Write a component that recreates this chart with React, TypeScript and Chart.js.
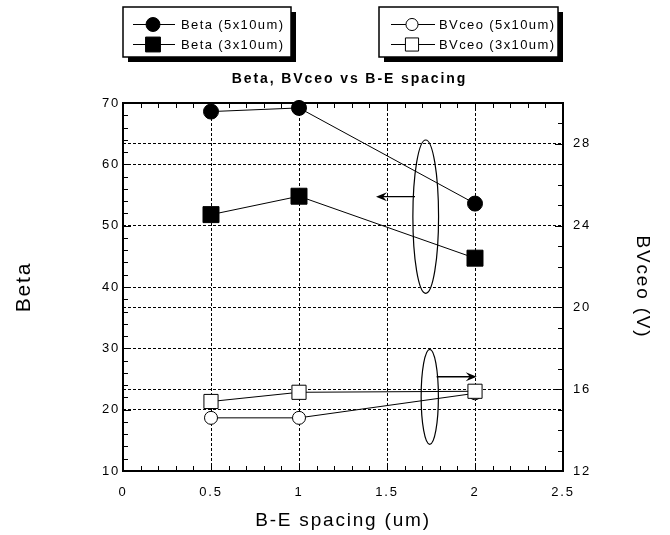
import React, { useEffect, useRef } from 'react';
import { Chart, registerables } from 'chart.js';

Chart.register(...registerables);

// ---- data ----
const spacingUm = [0.5, 1, 2];
const betaSmall = [68.6, 69.2, 53.6]; // Beta (5x10um)
const betaLarge = [51.8, 54.8, 44.7]; // Beta (3x10um)
const bvSmall = [14.6, 14.6, 15.8]; // BVceo (5x10um)
const bvLarge = [15.4, 15.85, 15.9]; // BVceo (3x10um)
const seriesLabels = ['Beta (5x10um)', 'Beta (3x10um)', 'BVceo (5x10um)', 'BVceo (3x10um)'];
const chartTitle = 'Beta, BVceo vs B-E spacing';
const xTitle = 'B-E spacing (um)';
const yTitle = 'Beta';
const y1Title = 'BVceo (V)';

// annotation ellipses: x centre, x half-width, y top, y bottom (left axis units)
const ellipseX = [1.72, 1.743];
const ellipseHalfW = [0.073, 0.049];
const ellipseTop = [63.97, 29.84];
const ellipseBottom = [38.97, 14.35];
// annotation arrows: x start, x end, y (left axis units)
const arrowFrom = [1.659, 1.782];
const arrowTo = [1.4375, 2.01];
const arrowY = [54.72, 25.37];

const FONT = '"Liberation Sans", Arial, Helvetica, sans-serif';

const pts = (ys: number[]) => spacingUm.map((x, i) => ({ x, y: ys[i] }));

function drawMarker(ctx: CanvasRenderingContext2D, style: string, r: number, x: number, y: number, fill: string) {
  ctx.beginPath();
  if (style === 'rect') {
    const s = r * Math.SQRT1_2;
    ctx.rect(x - s, y - s, 2 * s, 2 * s);
  } else {
    ctx.arc(x, y, r, 0, Math.PI * 2);
  }
  ctx.fillStyle = fill;
  ctx.fill();
  ctx.lineWidth = 1;
  ctx.strokeStyle = '#000';
  ctx.stroke();
}

const decorPlugin = {
  id: 'decor',
  beforeDraw(chart: any) {
    (chart.ctx as any).letterSpacing = '1.8px';
  },
  beforeDatasetsDraw(chart: any) {
    const { ctx, chartArea: a, scales } = chart;
    const x = scales.x;
    const y = scales.y;
    const y1 = scales.y1;
    ctx.save();
    ctx.strokeStyle = '#000';
    ctx.lineWidth = 1;
    ctx.setLineDash([]);
    ctx.beginPath();
    // x minor/major ticks (bottom + top), inward
    for (let i = 0; i <= 25; i++) {
      const p = Math.round(x.getPixelForValue(i * 0.1)) + 0.5;
      const len = i % 5 === 0 ? 8 : 5;
      ctx.moveTo(p, a.bottom);
      ctx.lineTo(p, a.bottom - len);
      ctx.moveTo(p, a.top);
      ctx.lineTo(p, a.top + len);
    }
    // left axis ticks
    for (let i = 0; i <= 30; i++) {
      const p = Math.round(y.getPixelForValue(10 + i * 2)) + 0.5;
      const len = i % 5 === 0 ? 8 : 5;
      ctx.moveTo(a.left, p);
      ctx.lineTo(a.left + len, p);
    }
    // right axis ticks
    for (let i = 0; i <= 18; i++) {
      const p = Math.round(y1.getPixelForValue(12 + i)) + 0.5;
      const len = i % 4 === 0 ? 8 : 5;
      ctx.moveTo(a.right, p);
      ctx.lineTo(a.right - len, p);
    }
    ctx.stroke();
    // frame
    ctx.lineWidth = 2;
    ctx.strokeRect(a.left, a.top, a.right - a.left, a.bottom - a.top);

    // ellipses
    ctx.lineWidth = 1.2;
    for (let i = 0; i < ellipseX.length; i++) {
      const cx = x.getPixelForValue(ellipseX[i]);
      const rx = x.getPixelForValue(ellipseX[i] + ellipseHalfW[i]) - cx;
      const t = y.getPixelForValue(ellipseTop[i]);
      const b = y.getPixelForValue(ellipseBottom[i]);
      ctx.beginPath();
      ctx.ellipse(cx, (t + b) / 2, rx, (b - t) / 2, 0, 0, Math.PI * 2);
      ctx.stroke();
    }
    // arrows
    for (let i = 0; i < arrowFrom.length; i++) {
      const x0 = x.getPixelForValue(arrowFrom[i]);
      const x1 = x.getPixelForValue(arrowTo[i]);
      const py = y.getPixelForValue(arrowY[i]);
      const dir = x1 > x0 ? 1 : -1;
      ctx.lineWidth = i === 1 ? 1.6 : 1.2;
      ctx.beginPath();
      ctx.moveTo(x0, py);
      ctx.lineTo(x1 - dir * 6, py);
      ctx.stroke();
      ctx.beginPath();
      ctx.moveTo(x1, py);
      ctx.lineTo(x1 - dir * 11, py - 4.5);
      ctx.lineTo(x1 - dir * 7, py);
      ctx.lineTo(x1 - dir * 11, py + 4.5);
      ctx.closePath();
      ctx.fillStyle = '#000';
      ctx.fill();
    }
    ctx.restore();
  },
  afterDraw(chart: any) {
    const { ctx } = chart;
    const ds = chart.data.datasets;
    const boxes = [
      { l: 123, t: 7, r: 291, b: 57, lf: 133, lt: 175, m: 153, tx: 181, items: [0, 1] },
      { l: 379, t: 7, r: 558, b: 57, lf: 391, lt: 435, m: 412, tx: 439, items: [2, 3] },
    ];
    const rowY = [24.5, 44.5];
    ctx.save();
    (ctx as any).letterSpacing = '1.4px';
    for (const bx of boxes) {
      ctx.fillStyle = '#000';
      ctx.fillRect(bx.l + 5, bx.t + 5, bx.r - bx.l, bx.b - bx.t);
      ctx.fillStyle = '#fff';
      ctx.fillRect(bx.l, bx.t, bx.r - bx.l, bx.b - bx.t);
      ctx.lineWidth = 1.5;
      ctx.strokeStyle = '#000';
      ctx.strokeRect(bx.l, bx.t, bx.r - bx.l, bx.b - bx.t);
      bx.items.forEach((idx, row) => {
        const d = ds[idx];
        const yy = rowY[row];
        ctx.lineWidth = 1;
        ctx.beginPath();
        ctx.moveTo(bx.lf, yy);
        ctx.lineTo(bx.lt, yy);
        ctx.stroke();
        drawMarker(ctx, d.pointStyle, d.pointRadius * 0.93, bx.m, yy, d.pointBackgroundColor);
        ctx.fillStyle = '#000';
        ctx.font = `13px ${FONT}`;
        ctx.textAlign = 'left';
        ctx.textBaseline = 'middle';
        ctx.fillText(d.label, bx.tx, yy + 0.5);
      });
    }
    ctx.font = `bold 14px ${FONT}`;
    (ctx as any).letterSpacing = '1.9px';
    ctx.textAlign = 'center';
    ctx.textBaseline = 'middle';
    ctx.fillStyle = '#000';
    ctx.fillText(chartTitle, 349.5, 79);
    ctx.restore();
  },
};

const gridColor = (edgeA: number, edgeB: number) => (c: any) =>
  c.tick && (Math.abs(c.tick.value - edgeA) < 1e-9 || Math.abs(c.tick.value - edgeB) < 1e-9)
    ? 'rgba(0,0,0,0)'
    : '#000';

export default function App() {
  const ref = useRef<HTMLCanvasElement | null>(null);

  useEffect(() => {
    document.body.style.margin = '0';
    const canvas = ref.current;
    if (!canvas) return;
    const common = {
      borderColor: '#000',
      borderWidth: 1,
      pointBorderColor: '#000',
      pointBorderWidth: 1,
      tension: 0,
      clip: false as any,
    };
    const chart = new Chart(canvas, {
      type: 'line',
      data: {
        datasets: [
          { ...common, label: seriesLabels[0], data: pts(betaSmall), yAxisID: 'y', pointStyle: 'circle', pointRadius: 7.5, pointBackgroundColor: '#000', order: 3 },
          { ...common, label: seriesLabels[1], data: pts(betaLarge), yAxisID: 'y', pointStyle: 'rect', pointRadius: 11.3, pointBackgroundColor: '#000', order: 2 },
          { ...common, label: seriesLabels[2], data: pts(bvSmall), yAxisID: 'y1', pointStyle: 'circle', pointRadius: 6.5, pointBackgroundColor: '#fff', order: 1 },
          { ...common, label: seriesLabels[3], data: pts(bvLarge), yAxisID: 'y1', pointStyle: 'rect', pointRadius: 10, pointBackgroundColor: '#fff', order: 0 },
        ] as any,
      },
      options: {
        responsive: false,
        animation: false,
        events: [],
        layout: { padding: { top: 103, left: 0, right: 0, bottom: 0 } },
        plugins: { legend: { display: false }, title: { display: false }, tooltip: { enabled: false } },
        scales: {
          x: {
            type: 'linear',
            min: 0,
            max: 2.5,
            afterFit: (s: any) => { s.height = 64; },
            ticks: {
              stepSize: 0.5,
              padding: 14,
              color: '#000',
              font: { size: 13, family: FONT },
              maxRotation: 0,
              autoSkip: false,
              callback: (v: any) => String(Math.round(Number(v) * 10) / 10),
            },
            grid: { color: gridColor(0, 2.5), lineWidth: 1, drawTicks: false },
            border: { display: false, dash: [3, 2] },
            title: { display: true, text: xTitle, color: '#000', font: { size: 19, family: FONT }, padding: { top: 0, bottom: 3 } },
          },
          y: {
            type: 'linear',
            position: 'left',
            min: 10,
            max: 70,
            afterFit: (s: any) => { s.width = 123; },
            ticks: { stepSize: 10, padding: 3, color: '#000', font: { size: 13, family: FONT } },
            grid: { color: gridColor(10, 70), lineWidth: 1, drawTicks: false },
            border: { display: false, dash: [3, 2] },
            title: { display: true, text: yTitle, color: '#000', font: { size: 21, family: FONT }, padding: { top: 11.4, bottom: 0 } },
          },
          y1: {
            type: 'linear',
            position: 'right',
            min: 12,
            max: 30,
            afterFit: (s: any) => { s.width = 107; },
            ticks: { stepSize: 4, includeBounds: false, padding: 10, color: '#000', font: { size: 13, family: FONT } } as any,
            grid: { color: gridColor(12, 30), lineWidth: 1, drawTicks: false },
            border: { display: false, dash: [3, 2] },
            title: { display: true, text: y1Title, color: '#000', font: { size: 19, family: FONT }, padding: { top: 16.6, bottom: 0 } },
          },
        },
      } as any,
      plugins: [decorPlugin as any],
    });
    return () => chart.destroy();
  }, []);

  return (
    <div style={{ position: 'relative', width: 670, height: 535 }}>
      <canvas ref={ref} width={670} height={535} style={{ display: 'block' }} />
    </div>
  );
}
